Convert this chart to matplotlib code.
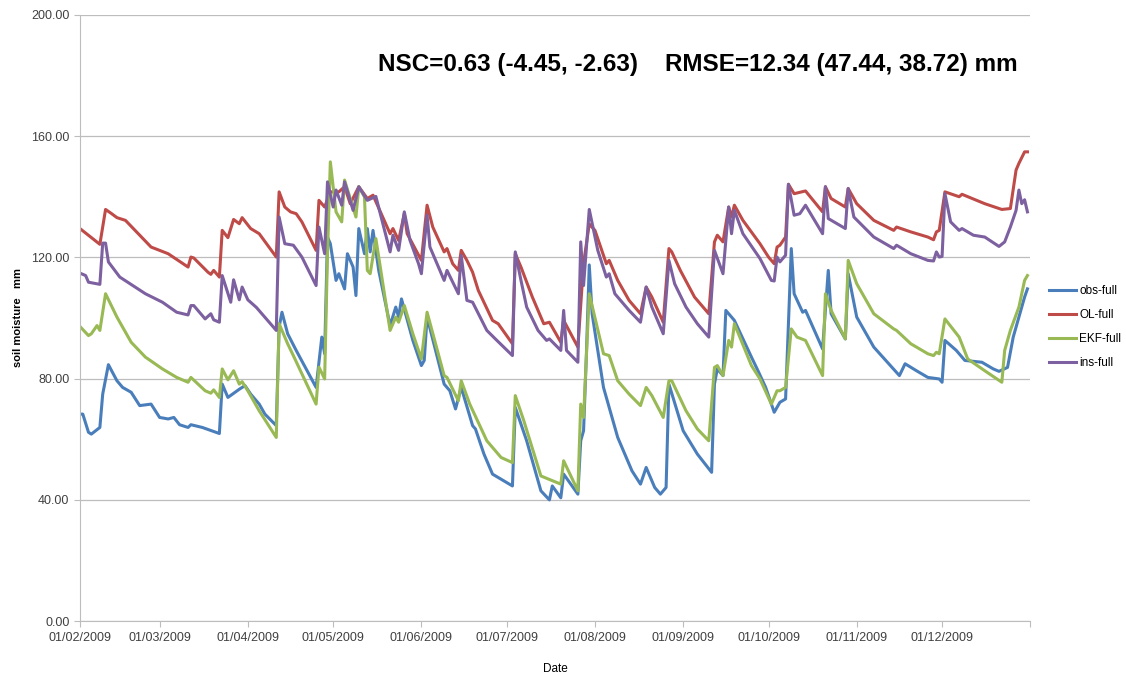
import numpy as np
import pandas as pd
import matplotlib
matplotlib.use('Agg')
import matplotlib.pyplot as plt

# dates (2009, MM-DD) and values, per series
obs_dates = ['02-01', '02-02', '02-04', '02-05', '02-08', '02-09', '02-11', '02-14', '02-16',
             '02-19', '02-22', '02-26', '03-01', '03-04', '03-06', '03-08', '03-11', '03-12',
             '03-16', '03-22', '03-23', '03-25', '03-29', '03-31', '04-02', '04-05', '04-07',
             '04-11', '04-12', '04-13', '04-15', '04-18', '04-25', '04-27', '04-28', '04-29',
             '04-30', '05-02', '05-03', '05-05', '05-06', '05-08', '05-09', '05-10', '05-12',
             '05-13', '05-14', '05-15', '05-17', '05-21', '05-23', '05-24', '05-25', '05-29',
             '06-01', '06-02', '06-03', '06-09', '06-11', '06-13', '06-15', '06-19', '06-20',
             '06-23', '06-26', '07-03', '07-04', '07-08', '07-13', '07-16', '07-17', '07-20',
             '07-21', '07-26', '07-27', '07-28', '07-29', '07-30', '07-31', '08-04', '08-09',
             '08-14', '08-17', '08-19', '08-22', '08-24', '08-26', '08-27', '09-01', '09-06',
             '09-11', '09-12', '09-13', '09-15', '09-16', '09-19', '09-25', '09-27', '09-30',
             '10-03', '10-05', '10-07', '10-09', '10-10', '10-13', '10-14', '10-20', '10-22',
             '10-23', '10-28', '10-29', '11-01', '11-07', '11-16', '11-18', '11-22', '11-26',
             '11-30', '12-01', '12-02', '12-06', '12-09', '12-15', '12-19', '12-21', '12-24',
             '12-26', '12-28', '12-30', '12-31']
obs_vals = [68.3, 68.3, 62.3, 61.7, 63.9, 74.9, 84.6, 79.3, 77.1,
            75.5, 71.1, 71.6, 67.2, 66.7, 67.2, 64.8, 63.9, 64.8,
            63.9, 61.9, 78.2, 73.8, 76.5, 77.7, 74.9, 71.6, 68.3,
            64.5, 97.0, 101.9, 94.8, 89.3, 77.1, 93.7, 88.2, 126.7,
            124.5, 112.4, 114.6, 109.6, 121.2, 116.8, 107.4, 129.5, 121.2,
            129.5, 121.8, 128.9, 115.7, 97.5, 103.6, 100.3, 106.3, 92.6,
            84.3, 86.0, 100.3, 78.2, 76.0, 70.0, 77.1, 64.5, 63.4,
            55.1, 48.5, 44.6, 70.5, 59.5, 43.0, 40.0, 44.6, 40.7,
            48.5, 41.9, 59.5, 62.8, 88.2, 117.5, 101.4, 77.1, 60.6,
            49.6, 45.2, 50.7, 44.1, 41.9, 44.1, 78.2, 62.8, 55.1,
            49.1, 78.2, 83.2, 81.0, 102.5, 99.2, 87.1, 83.2, 77.1,
            68.9, 72.2, 73.3, 122.9, 108.0, 101.9, 102.5, 89.8, 115.7,
            101.4, 93.1, 114.6, 100.3, 90.4, 81.0, 84.9, 82.6, 80.4,
            79.9, 78.8, 92.6, 89.3, 86.0, 85.4, 83.2, 82.4, 83.7,
            93.7, 100.3, 106.9, 109.6]

ol_dates = ['02-01', '02-08', '02-10', '02-12', '02-14', '02-17', '02-26', '03-04', '03-11',
            '03-12', '03-13', '03-18', '03-19', '03-20', '03-22', '03-23', '03-25', '03-27',
            '03-29', '03-30', '04-02', '04-05', '04-11', '04-12', '04-14', '04-16', '04-18',
            '04-20', '04-25', '04-26', '04-28', '04-30', '05-03', '05-05', '05-07', '05-10',
            '05-13', '05-15', '05-21', '05-22', '05-24', '05-26', '05-27', '06-01', '06-03',
            '06-05', '06-09', '06-10', '06-12', '06-14', '06-15', '06-17', '06-19', '06-21',
            '06-26', '06-28', '07-03', '07-04', '07-06', '07-10', '07-14', '07-16', '07-20',
            '07-21', '07-26', '07-28', '07-30', '08-01', '08-05', '08-06', '08-09', '08-13',
            '08-17', '08-19', '08-21', '08-25', '08-27', '08-28', '08-31', '09-05', '09-10',
            '09-12', '09-13', '09-15', '09-17', '09-18', '09-19', '09-22', '09-28', '10-01',
            '10-03', '10-04', '10-05', '10-07', '10-08', '10-10', '10-14', '10-20', '10-21',
            '10-23', '10-28', '10-29', '11-01', '11-07', '11-14', '11-15', '11-20', '11-26',
            '11-28', '11-29', '11-30', '12-02', '12-07', '12-08', '12-16', '12-22', '12-25',
            '12-27', '12-28', '12-30', '12-31']
ol_vals = [129.5, 124.3, 135.8, 134.5, 133.1, 132.2, 123.4, 121.2, 116.8,
           120.1, 119.8, 115.1, 114.4, 115.7, 113.5, 128.9, 126.5, 132.5,
           131.1, 133.1, 129.5, 127.8, 120.1, 141.6, 136.6, 135.0, 134.4,
           131.7, 122.3, 138.8, 136.6, 141.6, 141.6, 143.3, 137.7, 143.3,
           139.4, 140.5, 127.8, 129.5, 125.6, 134.4, 127.8, 119.0, 137.2,
           130.0, 121.8, 122.9, 117.9, 115.7, 122.3, 119.0, 115.1, 109.1,
           99.2, 98.1, 91.5, 121.2, 116.8, 106.9, 98.1, 98.6, 92.0,
           99.2, 90.4, 118.0, 131.0, 128.9, 117.9, 119.0, 112.4, 105.8,
           101.4, 110.2, 106.9, 98.6, 122.9, 121.8, 115.7, 106.9, 101.4,
           125.1, 127.3, 125.1, 136.6, 133.3, 137.2, 132.2, 124.5, 120.1,
           117.9, 123.4, 124.0, 126.7, 144.1, 141.0, 141.9, 135.0, 143.3,
           139.4, 136.6, 142.7, 137.7, 132.2, 128.9, 130.0, 128.4, 126.7,
           125.8, 128.4, 128.9, 141.6, 140.0, 140.8, 137.7, 135.8, 136.1,
           148.8, 151.0, 154.8, 154.8]

ekf_dates = ['02-01', '02-04', '02-05', '02-07', '02-08', '02-10', '02-14', '02-19', '02-24',
             '03-02', '03-07', '03-11', '03-12', '03-17', '03-19', '03-20', '03-22', '03-23',
             '03-25', '03-27', '03-29', '03-30', '04-01', '04-05', '04-11', '04-12', '04-15',
             '04-17', '04-25', '04-26', '04-28', '04-29', '04-30', '05-02', '05-04', '05-05',
             '05-09', '05-10', '05-12', '05-13', '05-14', '05-16', '05-21', '05-23', '05-24',
             '05-26', '05-29', '06-01', '06-03', '06-09', '06-10', '06-14', '06-15', '06-18',
             '06-24', '06-29', '07-03', '07-04', '07-07', '07-13', '07-20', '07-21', '07-26',
             '07-27', '07-28', '07-30', '08-04', '08-06', '08-09', '08-13', '08-17', '08-19',
             '08-21', '08-25', '08-27', '08-28', '09-02', '09-06', '09-10', '09-12', '09-13',
             '09-15', '09-17', '09-18', '09-19', '09-25', '09-28', '10-02', '10-04', '10-05',
             '10-07', '10-09', '10-11', '10-14', '10-20', '10-21', '10-23', '10-28', '10-29',
             '11-01', '11-07', '11-14', '11-15', '11-20', '11-26', '11-28', '11-29', '11-30',
             '12-02', '12-07', '12-10', '12-16', '12-22', '12-23', '12-25', '12-28', '12-30',
             '12-31']
ekf_vals = [97.2, 94.2, 94.8, 97.5, 95.9, 108.0, 100.3, 92.0, 87.1,
            83.2, 80.4, 78.8, 80.4, 76.0, 75.2, 76.3, 73.8, 83.2,
            79.6, 82.6, 78.2, 79.0, 76.0, 69.4, 60.6, 98.1, 91.5,
            87.6, 71.6, 83.8, 79.9, 121.2, 151.5, 135.0, 131.7, 145.5,
            133.3, 143.3, 139.9, 115.7, 114.6, 126.2, 95.9, 100.3, 98.6,
            104.1, 94.8, 86.5, 101.9, 81.0, 80.4, 72.7, 79.3, 71.6,
            59.5, 54.0, 52.3, 74.4, 66.1, 47.9, 45.2, 52.9, 43.0,
            71.6, 67.2, 108.0, 88.2, 87.6, 79.3, 74.9, 71.1, 77.1,
            74.4, 67.2, 79.3, 79.3, 69.4, 63.4, 59.5, 83.7, 84.3,
            81.0, 92.6, 90.4, 98.1, 84.3, 79.9, 71.6, 76.0, 76.0,
            77.1, 96.4, 93.7, 92.6, 81.0, 108.0, 102.5, 93.1, 119.0,
            111.3, 101.4, 96.4, 95.9, 91.5, 88.2, 87.6, 88.7, 88.2,
            99.7, 93.7, 86.5, 82.6, 78.8, 89.3, 95.9, 103.6, 112.4,
            114.0]

ins_dates = ['02-01', '02-03', '02-04', '02-07', '02-08', '02-09', '02-10', '02-11', '02-15',
             '02-24', '03-02', '03-07', '03-11', '03-12', '03-13', '03-16', '03-17', '03-19',
             '03-20', '03-22', '03-23', '03-26', '03-27', '03-29', '03-30', '04-01', '04-04',
             '04-11', '04-12', '04-14', '04-17', '04-20', '04-25', '04-26', '04-28', '04-29',
             '05-01', '05-02', '05-04', '05-05', '05-08', '05-10', '05-13', '05-16', '05-21',
             '05-22', '05-24', '05-26', '05-28', '05-31', '06-01', '06-03', '06-04', '06-09',
             '06-10', '06-14', '06-15', '06-17', '06-19', '06-24', '06-27', '07-03', '07-04',
             '07-06', '07-08', '07-12', '07-15', '07-16', '07-20', '07-21', '07-22', '07-26',
             '07-27', '07-28', '07-30', '08-02', '08-05', '08-06', '08-08', '08-13', '08-17',
             '08-19', '08-21', '08-25', '08-27', '08-29', '09-02', '09-06', '09-10', '09-12',
             '09-15', '09-17', '09-18', '09-19', '09-22', '09-28', '10-02', '10-03', '10-04',
             '10-05', '10-07', '10-08', '10-10', '10-12', '10-14', '10-20', '10-21', '10-22',
             '10-28', '10-29', '10-31', '11-07', '11-14', '11-15', '11-20', '11-26', '11-28',
             '11-29', '11-30', '12-01', '12-02', '12-04', '12-07', '12-08', '12-12', '12-16',
             '12-21', '12-23', '12-25', '12-27', '12-28', '12-29', '12-30', '12-31']
ins_vals = [114.8, 114.0, 111.8, 111.3, 111.1, 124.7, 124.7, 118.5, 113.5,
            108.0, 105.2, 101.9, 101.0, 104.1, 104.1, 100.8, 99.7, 101.4,
            99.4, 98.6, 114.0, 105.2, 112.6, 106.0, 110.2, 106.0, 103.5,
            95.9, 133.3, 124.5, 124.0, 120.1, 110.7, 130.0, 121.2, 144.9,
            136.6, 142.2, 137.2, 144.9, 135.5, 143.3, 138.8, 140.1, 121.8,
            127.3, 122.3, 135.0, 125.6, 117.9, 114.6, 133.9, 123.4, 112.4,
            115.7, 108.0, 120.6, 105.8, 105.2, 95.9, 93.1, 87.6, 121.8,
            112.4, 103.6, 95.9, 92.6, 93.1, 89.3, 102.5, 89.3, 85.4,
            125.1, 110.7, 135.8, 122.3, 113.5, 114.6, 108.0, 102.5, 98.6,
            110.2, 103.6, 94.8, 119.0, 111.3, 103.6, 98.1, 93.7, 122.3,
            114.6, 136.6, 127.8, 135.5, 127.8, 119.6, 112.4, 112.2, 120.1,
            118.5, 120.7, 144.1, 133.9, 134.4, 137.2, 127.8, 143.3, 132.8,
            129.5, 142.7, 133.3, 126.7, 122.9, 124.0, 121.2, 119.0, 118.8,
            121.8, 120.1, 120.3, 141.0, 131.7, 128.9, 129.5, 127.3, 126.7,
            123.6, 125.1, 130.0, 135.5, 142.2, 137.7, 139.0, 135.0]

series = [
    ('obs-full', obs_dates, obs_vals, '#4a7ebb'),
    ('OL-full', ol_dates, ol_vals, '#be4b48'),
    ('EKF-full', ekf_dates, ekf_vals, '#98b954'),
    ('ins-full', ins_dates, ins_vals, '#7d60a0'),
]

fig = plt.figure(figsize=(11.26, 6.73), dpi=100)
ax = fig.add_axes([0.071, 0.077, 0.844, 0.901])

for name, d, v, c in series:
    x = pd.to_datetime(['2009-' + s for s in d])
    ax.plot(x, v, color=c, lw=2.2, label=name, solid_joinstyle='round')

ax.set_xlim(pd.Timestamp('2009-02-01'), pd.Timestamp('2010-01-01'))
ax.set_ylim(0, 200)
ax.set_yticks(np.arange(0, 201, 40))
ax.yaxis.set_major_formatter(matplotlib.ticker.FormatStrFormatter('%.2f'))

months = pd.date_range('2009-02-01', '2010-01-01', freq='MS')
ax.set_xticks(months)
ax.set_xticklabels([m.strftime('%d/%m/%Y') if m.year == 2009 else '' for m in months])

ax.grid(axis='y', color='#bdbdbd', lw=0.9)
ax.set_axisbelow(True)
for s in ['top', 'right']:
    ax.spines[s].set_visible(False)
for s in ['left', 'bottom']:
    ax.spines[s].set_color('#bdbdbd')
ax.tick_params(axis='both', colors='#bdbdbd', labelcolor='#404040', labelsize=9,
               length=4, direction='out')
for lab in ax.get_xticklabels() + ax.get_yticklabels():
    lab.set_family('Liberation Sans')

ax.set_ylabel('soil moisture   mm', fontsize=8, fontweight='bold', labelpad=6,
              family='Liberation Sans')
ax.set_xlabel('Date', fontsize=8.5, labelpad=14, family='Liberation Sans')

ax.text(0.314, 0.918, 'NSC=0.63 (-4.45, -2.63)    RMSE=12.34 (47.44, 38.72) mm',
        transform=ax.transAxes, ha='left', va='center', fontsize=17.5, fontweight='bold',
        family=['Liberation Sans Narrow', 'Liberation Sans'])

ax.legend(loc='center left', bbox_to_anchor=(1.02, 0.485), frameon=False,
          handlelength=2.3, labelspacing=1.0, handletextpad=0.25, borderaxespad=0,
          borderpad=0, prop={'family': 'Liberation Sans', 'size': 8.5})

fig.savefig('out.png', dpi=100)
